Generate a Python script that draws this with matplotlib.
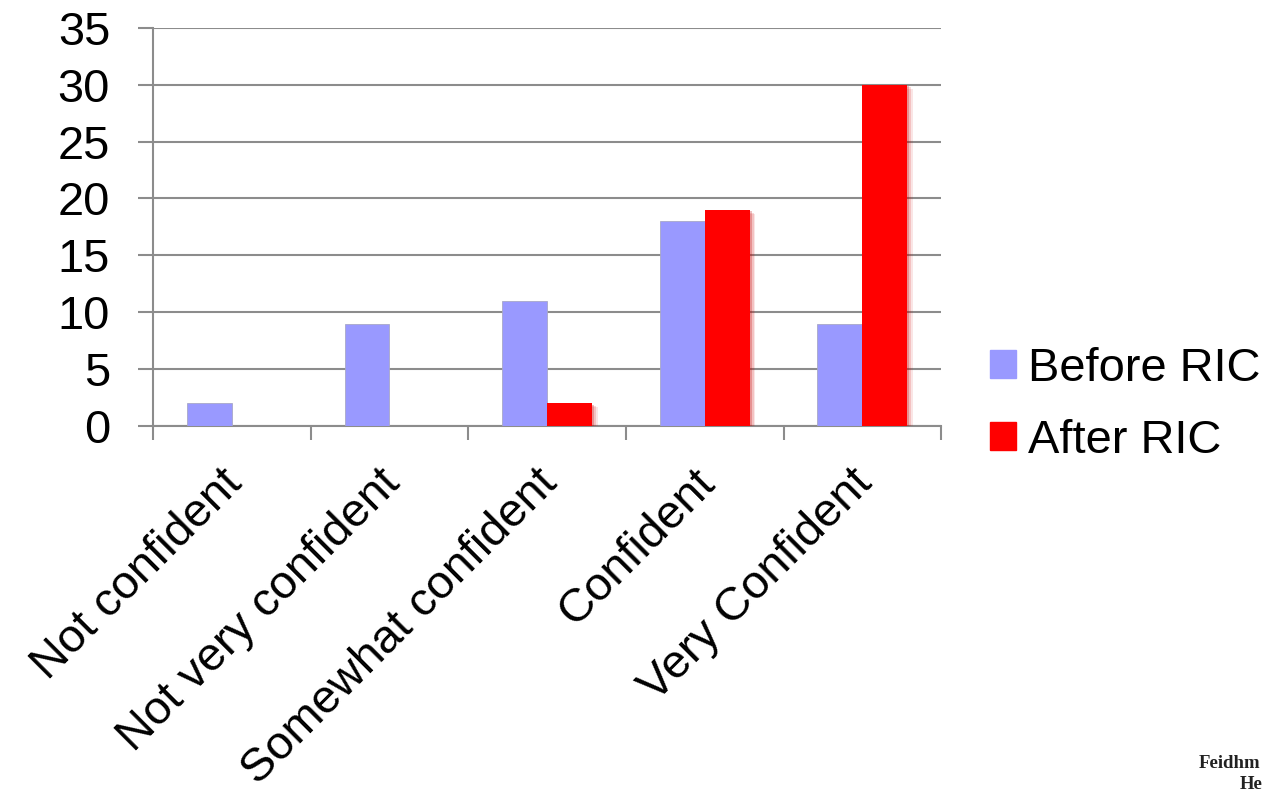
import numpy as np
import matplotlib
matplotlib.use("Agg")
from matplotlib import pyplot as plt
from matplotlib import patheffects as pe
from matplotlib.transforms import ScaledTranslation

categories = ["Not confident", "Not very confident", "Somewhat confident", "Confident", "Very Confident"]
before_ric = [2, 9, 11, 18, 9]
after_ric = [0, 0, 2, 19, 30]
y_ticks = [0, 5, 10, 15, 20, 25, 30, 35]

BLUE = "#9999ff"
RED = "#ff0000"
GRID = "#8c8c8c"
FS = 33.8

plt.rcParams["font.family"] = ["Liberation Sans", "DejaVu Sans"]

fig = plt.figure(figsize=(12.65, 7.92), dpi=100)
ax = fig.add_axes([0.121, 0.462, 0.623, 0.503])

x = np.arange(len(categories))
w = 0.285

ax.bar(x - w / 2, before_ric, width=w, color=BLUE, edgecolor="#a8a8c8", linewidth=0.6, zorder=3)

# soft shadow around the red bars
shadow = [
    pe.SimplePatchShadow(offset=(4, -3), shadow_rgbFace="#d00000", alpha=0.10),
    pe.SimplePatchShadow(offset=(3, -2), shadow_rgbFace="#d00000", alpha=0.15),
    pe.SimplePatchShadow(offset=(1.5, -1), shadow_rgbFace="#c00000", alpha=0.25),
    pe.Normal(),
]
reds = ax.bar(x + w / 2, after_ric, width=w, color=RED, linewidth=0, zorder=4)
for b, v in zip(reds, after_ric):
    if v > 0:
        b.set_path_effects(shadow)
    else:
        b.set_visible(False)

ax.set_xlim(-0.5, len(categories) - 0.5)
ax.set_ylim(0, 35)
ax.set_yticks(y_ticks)
ax.yaxis.grid(True, color=GRID, linewidth=1.5, zorder=0)
ax.set_axisbelow(True)

# ticks at category boundaries, labels at centres
ax.set_xticks(np.arange(len(categories) + 1) - 0.5)
ax.set_xticks(x, minor=True)
ax.set_xticklabels([])
ax.set_xticklabels(categories, minor=True, rotation=45, ha="right", rotation_mode="anchor", fontsize=FS)
ax.tick_params(axis="x", which="major", length=10, width=1.5, color=GRID, direction="out")
ax.tick_params(axis="x", which="minor", length=0, pad=25)
ax.tick_params(axis="y", length=11, width=1.5, color=GRID, direction="out", pad=20, labelsize=FS)
shift = ScaledTranslation(-12 / 100, 0, fig.dpi_scale_trans)
for lbl in ax.get_xticklabels(minor=True):
    lbl.set_transform(lbl.get_transform() + shift)

for s in ["top", "right"]:
    ax.spines[s].set_visible(False)
for s in ["left", "bottom"]:
    ax.spines[s].set_color(GRID)
    ax.spines[s].set_linewidth(1.5)

handles = [plt.Rectangle((0, 0), 1, 1, color=BLUE), plt.Rectangle((0, 0), 1, 1, color=RED)]
fig.legend(handles, ["Before RIC", "After RIC"], loc="center left",
           bbox_to_anchor=(0.768, 0.489), frameon=False, fontsize=FS,
           handlelength=0.55, handleheight=0.55, handletextpad=0.25, labelspacing=0.6,
           borderaxespad=0)

fig.text(0.9475, 0.030, "Feidhm", family="Liberation Serif", fontsize=13.5, weight="bold", color="#222222")
fig.text(0.998, 0.004, "He", family="Liberation Serif", fontsize=13.5, weight="bold", color="#222222", ha="right")

fig.savefig("out.png", dpi=100)
